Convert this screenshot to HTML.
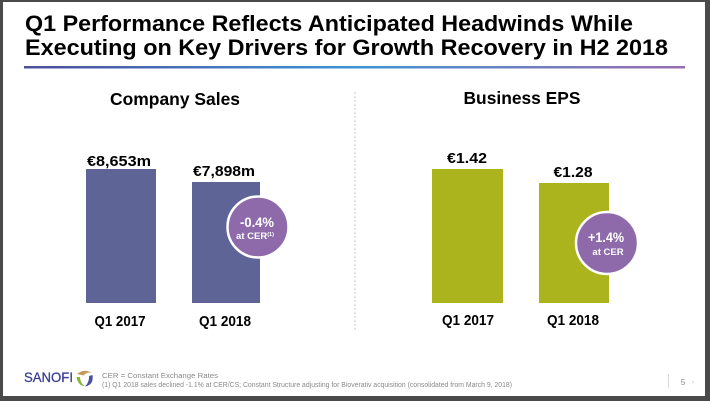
<!DOCTYPE html>
<html>
<head>
<meta charset="utf-8">
<style>
  html, body { margin:0; padding:0; background:#4a4a4a; }
  svg { display:block; }
  text { font-family: "Liberation Sans", Arial, sans-serif; }
</style>
</head>
<body>
<svg width="710" height="401" viewBox="0 0 710 401" xmlns="http://www.w3.org/2000/svg">
  <defs>
    <linearGradient id="tg" x1="0" y1="0" x2="1" y2="0">
      <stop offset="0" stop-color="#4b4f9f"/>
      <stop offset="0.5" stop-color="#3f93d3"/>
      <stop offset="1" stop-color="#9a6db0"/>
    </linearGradient>
  </defs>
  <!-- border/background -->
  <rect x="0" y="0" width="710" height="401" fill="#4a4a4a"/>
  <rect x="3" y="2" width="702" height="394" fill="#ffffff"/>

  <!-- Title -->
  <text x="25" y="31" font-size="22.5" font-weight="bold" fill="#000" textLength="608" lengthAdjust="spacingAndGlyphs">Q1 Performance Reflects Anticipated Headwinds While</text>
  <text x="25" y="55" font-size="22.5" font-weight="bold" fill="#000" textLength="643" lengthAdjust="spacingAndGlyphs">Executing on Key Drivers for Growth Recovery in H2 2018</text>
  <rect x="24" y="66" width="661" height="2.5" fill="url(#tg)"/>

  <!-- Section headers -->
  <text x="175" y="105" font-size="17.5" font-weight="bold" fill="#000" text-anchor="middle" textLength="130" lengthAdjust="spacingAndGlyphs">Company Sales</text>
  <text x="522" y="104" font-size="17.5" font-weight="bold" fill="#000" text-anchor="middle" textLength="117" lengthAdjust="spacingAndGlyphs">Business EPS</text>

  <!-- Divider -->
  <line x1="355" y1="92" x2="355" y2="332" stroke="#c8c8c8" stroke-width="1" stroke-dasharray="2,2"/>

  <!-- Company Sales bars -->
  <rect x="86" y="169" width="70" height="134" fill="#5f6496"/>
  <rect x="192" y="182" width="68" height="121" fill="#5f6496"/>
  <text x="119" y="166" font-size="15" font-weight="bold" fill="#000" text-anchor="middle" textLength="64" lengthAdjust="spacingAndGlyphs">€8,653m</text>
  <text x="224" y="176" font-size="15" font-weight="bold" fill="#000" text-anchor="middle" textLength="62" lengthAdjust="spacingAndGlyphs">€7,898m</text>
  <text x="120" y="326" font-size="15" font-weight="bold" fill="#000" text-anchor="middle" textLength="51" lengthAdjust="spacingAndGlyphs">Q1 2017</text>
  <text x="225" y="326" font-size="15" font-weight="bold" fill="#000" text-anchor="middle" textLength="52" lengthAdjust="spacingAndGlyphs">Q1 2018</text>

  <!-- Circle 1 -->
  <circle cx="258" cy="227" r="30.5" fill="#8e6aab" stroke="#ffffff" stroke-width="2.5"/>
  <text x="257" y="227" font-size="14" font-weight="bold" fill="#fff" text-anchor="middle" textLength="34" lengthAdjust="spacingAndGlyphs">-0.4%</text>
  <text x="255" y="239" font-size="9.5" font-weight="bold" fill="#fff" text-anchor="middle">at CER<tspan font-size="5.5" dy="-3">(1)</tspan></text>

  <!-- EPS bars -->
  <rect x="432" y="169" width="71" height="134" fill="#abb31d"/>
  <rect x="539" y="183" width="70" height="120" fill="#abb31d"/>
  <text x="467" y="163" font-size="15" font-weight="bold" fill="#000" text-anchor="middle" textLength="40" lengthAdjust="spacingAndGlyphs">€1.42</text>
  <text x="573" y="177" font-size="15" font-weight="bold" fill="#000" text-anchor="middle" textLength="39" lengthAdjust="spacingAndGlyphs">€1.28</text>
  <text x="468" y="325" font-size="15" font-weight="bold" fill="#000" text-anchor="middle" textLength="52" lengthAdjust="spacingAndGlyphs">Q1 2017</text>
  <text x="573" y="325" font-size="15" font-weight="bold" fill="#000" text-anchor="middle" textLength="52" lengthAdjust="spacingAndGlyphs">Q1 2018</text>

  <!-- Circle 2 -->
  <circle cx="607" cy="243" r="31" fill="#8e6aab" stroke="#ffffff" stroke-width="2.5"/>
  <text x="606" y="242" font-size="14" font-weight="bold" fill="#fff" text-anchor="middle" textLength="36" lengthAdjust="spacingAndGlyphs">+1.4%</text>
  <text x="608" y="255" font-size="9.5" font-weight="bold" fill="#fff" text-anchor="middle">at CER</text>

  <!-- Footer -->
  <text x="24" y="382" font-size="13.5" fill="#3d3f96" stroke="#3d3f96" stroke-width="0.3" textLength="49" lengthAdjust="spacingAndGlyphs">SANOFI</text>
  <!-- logo -->
  <path d="M77 374 Q84 368 92 373 Q87 371.5 83.5 375.5 Z" fill="#c79a5a"/>
  <path d="M76.5 377 Q78 386 85 386 Q80 383 80 377 Z" fill="#8ab43c"/>
  <path d="M92.5 375 Q94 385 85 386.5 Q89.5 382 89 376 Z" fill="#4a4fa0"/>
  <text x="102" y="378" font-size="7" fill="#8a8a8a" textLength="116" lengthAdjust="spacingAndGlyphs">CER = Constant Exchange Rates</text>
  <text x="102" y="387" font-size="7" fill="#8a8a8a" textLength="410" lengthAdjust="spacingAndGlyphs">(1) Q1 2018 sales declined -1.1% at CER/CS; Constant Structure adjusting for Bioverativ acquisition (consolidated from March 9, 2018)</text>
  <line x1="668.5" y1="374" x2="668.5" y2="388" stroke="#d8d8d8" stroke-width="1"/>
  <text x="683" y="385" font-size="8" fill="#8a8a8a" text-anchor="middle">5</text>
  <text x="693" y="384" font-size="6" fill="#b0b0c8" text-anchor="middle">›</text>
</svg>
</body>
</html>
